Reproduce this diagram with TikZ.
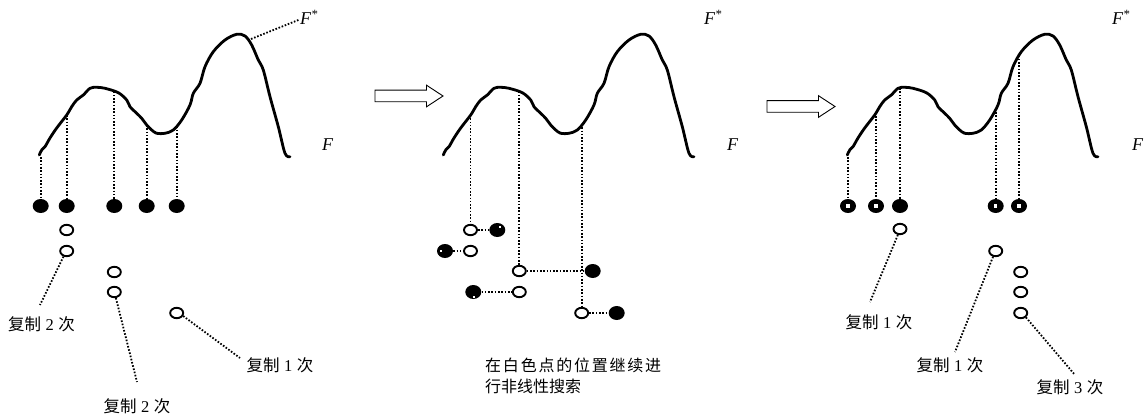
\documentclass[tikz,border=0pt]{standalone}
\usepackage{fontspec}
\setmainfont{Liberation Serif}
\newfontfamily\cjk{Noto Sans CJK SC}
\usetikzlibrary{shapes.geometric}
\newcommand\cpytimes[1]{{\cjk 复制}\hspace{4.5pt}#1\hspace{4.5pt}{\cjk 次}}
\tikzset{
  curveline/.style={line width=2.8pt, line cap=round, line join=round},
  dotline/.style={line width=1.8pt, dash pattern=on 1.6pt off 1.7pt},
  bdot/.style={ellipse, fill=black, minimum width=16pt, minimum height=14pt, inner sep=0pt},
  wdot/.style={ellipse, draw=black, fill=white, line width=1.9pt, minimum width=13pt, minimum height=10.4pt, inner sep=0pt},
  cnlab/.style={font=\fontsize{16.5}{19}\selectfont, inner sep=0pt},
  flab/.style={font=\fontsize{18}{20}\selectfont\itshape, inner sep=0pt, anchor=base west},
  hole/.style={fill=white},
  blockarrow/.style={draw=black, line width=0.9pt, fill=white, line join=miter},
  fcurve/.pic={\draw[curveline] plot[smooth, tension=0.55] coordinates {
    (39.3,155) (41.7,150) (45,146.7) (50,138) (56.7,128) (66.7,115) (71.7,106.7)
    (76.7,100) (83.3,95) (90,88.3) (96.7,87.3) (105,88.3) (118.3,92.7) (126.7,100)
    (130,106.7) (136.7,113.3) (141.7,118.3) (146.7,125) (151.7,130) (156.7,133.3)
    (165,133.3) (173.3,130) (181.7,120) (190,105) (193.3,93.3) (200,83.3) (205,66.7)
    (213.3,51.7) (225,40) (236.7,34.3) (245,36) (251.7,45) (258.3,60) (263.3,70)
    (270,96.7) (278.3,126.7) (285,153.3) (290,156.7)};},
  bigarrow/.pic={\draw[blockarrow] (0,-5.8) -- (51.5,-5.8) -- (51.5,-10.8) -- (68,0)
    -- (51.5,10.8) -- (51.5,5.8) -- (0,5.8) -- cycle;}
}
\begin{document}
\begin{tikzpicture}[x=1pt, y=-1pt]
\useasboundingbox (0,0) rectangle (1148,417);

% ---------------- Panel 1 ----------------
\pic at (0,0) {fcurve};
\node[flab] (Fs1) at (300,25) {F\textsuperscript{*}};
\node[flab] (F1) at (322,150) {F};
\coordinate (pk1) at (251,39);
\draw[dotline] (pk1) -- ([xshift=-1pt,yshift=-2pt]Fs1.west);

\coordinate (t11) at (40.7,157);
\coordinate (t12) at (66.7,115);
\coordinate (t13) at (114.3,91.5);
\coordinate (t14) at (146.7,125);
\coordinate (t15) at (176.7,126.5);
\node[bdot] (b11) at (40.7,206) {};
\node[bdot] (b12) at (66.7,206) {};
\node[bdot] (b13) at (114.3,206) {};
\node[bdot] (b14) at (146.7,206) {};
\node[bdot] (b15) at (176.7,206) {};
\foreach \i in {1,...,5} \draw[dotline] (t1\i) -- (b1\i.north);

\node[wdot] (w11) at (66.7,230) {};
\node[wdot] (w12) at (66.7,251) {};
\node[wdot] (w13) at (114.3,272) {};
\node[wdot] (w14) at (114.3,292) {};
\node[wdot] (w15) at (176.7,313) {};

\node[cnlab] (l11) at (41.5,324) {\cpytimes{2}};
\node[cnlab] (l12) at (137,406) {\cpytimes{2}};
\node[cnlab] (l13) at (280,365) {\cpytimes{1}};
\coordinate (e11) at (40,305);
\coordinate (e12) at (137,382);
\coordinate (e13) at (240,358);
\draw[dotline] (w12.240) -- (e11);
\draw[dotline] (w14.285) -- (e12);
\draw[dotline] (w15.-25) -- (e13);

% arrow 1
\pic at (375,96) {bigarrow};

% ---------------- Panel 2 ----------------
\pic at (404,0) {fcurve};
\node[flab] (Fs2) at (704,25) {F\textsuperscript{*}};
\node[flab] (F2) at (727,150) {F};

\coordinate (t21) at (470.5,115);
\coordinate (t22) at (519.3,91.6);
\coordinate (t23) at (581.7,124);
\node[wdot] (w21) at (470.5,230) {};
\node[wdot] (w22) at (470.5,251) {};
\node[wdot] (w23) at (519.3,271) {};
\node[wdot] (w24) at (519.3,292) {};
\node[wdot] (w25) at (581.7,313) {};
\node[bdot] (b21) at (497.3,230) {};
\node[bdot] (b22) at (445,251) {};
\node[bdot] (b23) at (592.7,271) {};
\node[bdot] (b24) at (473.3,292) {};
\node[bdot] (b25) at (616.7,313) {};
\fill[hole] ([shift={(1.5,-4.5)}]b21.center) rectangle +(2.2,2.2);
\fill[hole] ([shift={(-5.5,-1)}]b22.center) rectangle +(2.2,2.2);
\fill[hole] ([shift={(-0.5,3.5)}]b24.center) rectangle +(2.2,2.2);

\draw[dotline] (t21) -- (w21.north);
\draw[dotline] (t22) -- (w23.north);
\draw[dotline] (t23) -- (w25.north);
\draw[dotline] (w21.east) -- (b21.west);
\draw[dotline] (b22.east) -- (w22.west);
\draw[dotline] (w23.east) -- (b23.west);
\draw[dotline] (b24.east) -- (w24.west);
\draw[dotline] (w25.east) -- (b25.west);

\node[anchor=north west, inner sep=0pt, align=left,
      font=\cjk\fontsize{16}{21}\selectfont] (para) at (485,358)
  {\hbox to 176pt{在\hfil 白\hfil 色\hfil 点\hfil 的\hfil 位\hfil 置\hfil 继\hfil 续\hfil 进}\\行非线性搜索};

% arrow 2
\pic at (767,106.5) {bigarrow};

% ---------------- Panel 3 ----------------
\pic at (808,0) {fcurve};
\node[flab] (Fs3) at (1112,25) {F\textsuperscript{*}};
\node[flab] (F3) at (1132,150) {F};

\coordinate (t31) at (848,157);
\coordinate (t32) at (876,112.8);
\coordinate (t33) at (900,88);
\coordinate (t34) at (995.7,108.7);
\coordinate (t35) at (1019,55.6);
\node[bdot] (b31) at (848,206) {};
\node[bdot] (b32) at (876,206) {};
\node[bdot] (b33) at (900,206) {};
\node[bdot] (b34) at (995.7,206) {};
\node[bdot] (b35) at (1019,206) {};
\foreach \i in {1,...,5} \draw[dotline] (t3\i) -- (b3\i.north);
\foreach \i in {1,2,4,5} \fill[hole] ([shift={(-1.6,-1.6)}]b3\i.center) rectangle +(3.2,3.2);

\node[wdot] (w31) at (900,229) {};
\node[wdot] (w32) at (995.7,251) {};
\node[wdot] (w33) at (1020.7,272) {};
\node[wdot] (w34) at (1020.7,292) {};
\node[wdot] (w35) at (1020.7,313) {};

\node[cnlab] (l31) at (879,322.5) {\cpytimes{1}};
\node[cnlab] (l32) at (950,365) {\cpytimes{1}};
\node[cnlab] (l33) at (1070,387) {\cpytimes{3}};
\coordinate (e31) at (870,302);
\coordinate (e32) at (955,352);
\coordinate (e33) at (1075,375);
\draw[dotline] (w31.250) -- (e31);
\draw[dotline] (w32.245) -- (e32);
\draw[dotline] (w35.-40) -- (e33);
\end{tikzpicture}
\end{document}
